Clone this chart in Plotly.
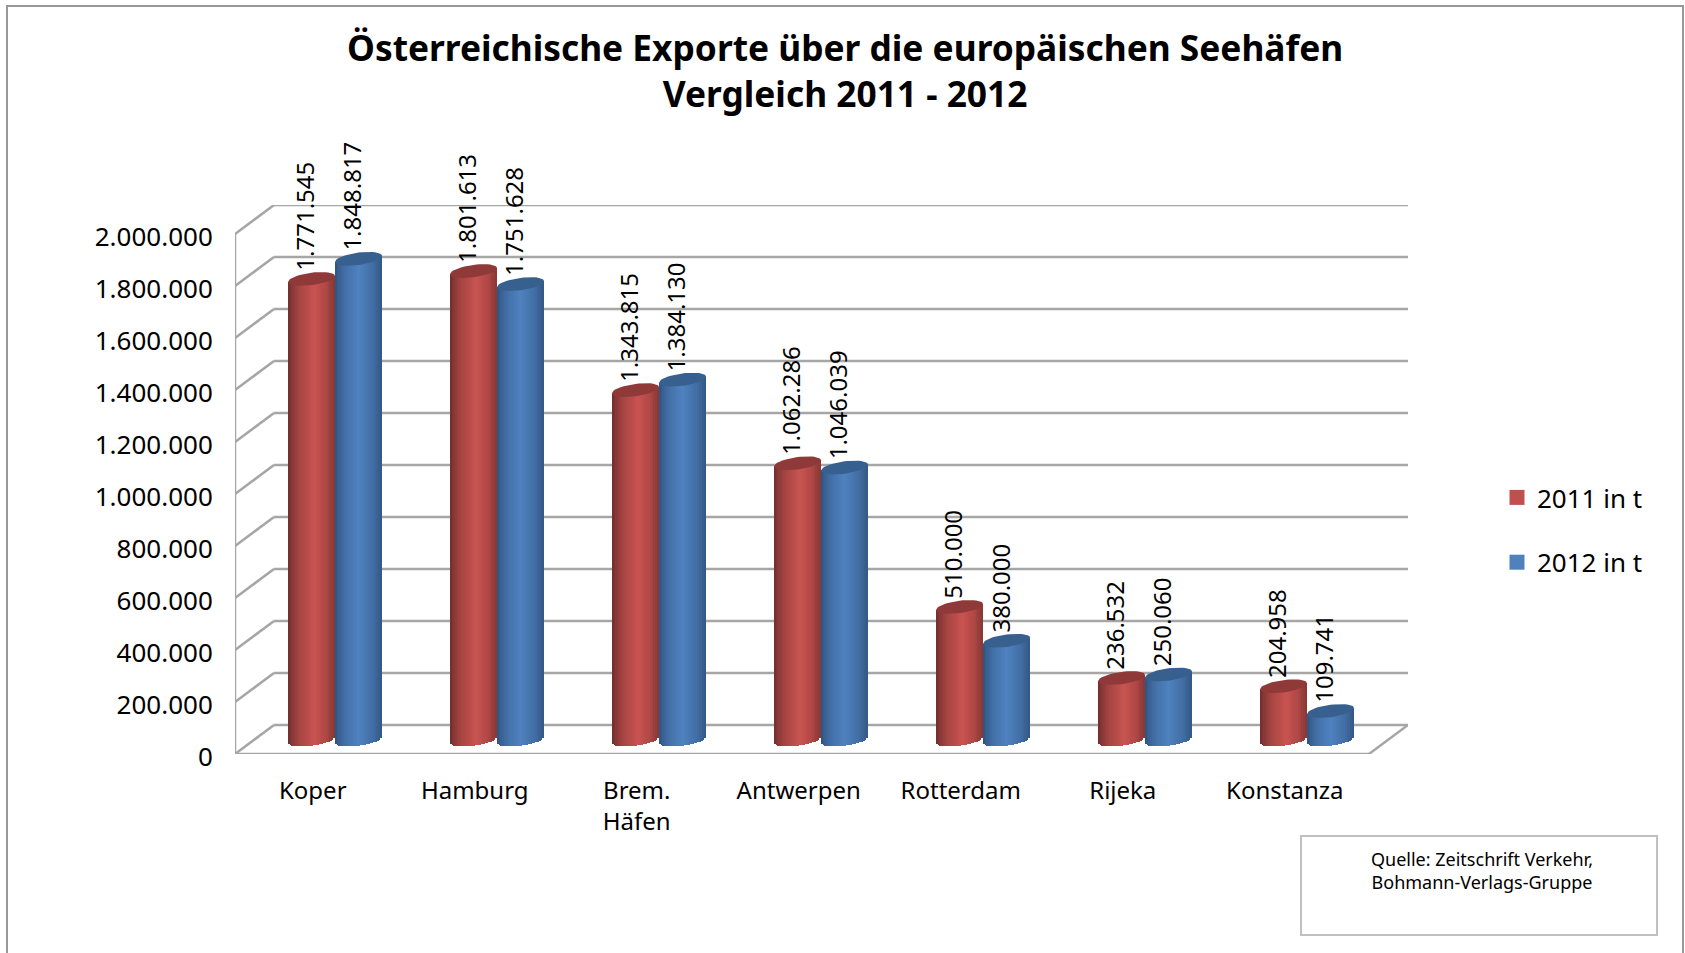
import numpy as np
import plotly.graph_objects as go

ports = ['Koper', 'Hamburg', 'Brem.<br>Häfen', 'Antwerpen', 'Rotterdam', 'Rijeka', 'Konstanza']
exports_2011 = [1771545, 1801613, 1343815, 1062286, 510000, 236532, 204958]
exports_2012 = [1848817, 1751628, 1384130, 1046039, 380000, 250060, 109741]
y_ticks = [0, 200000, 400000, 600000, 800000, 1000000, 1200000, 1400000, 1600000, 1800000, 2000000]
title_text = 'Österreichische Exporte über die europäischen Seehäfen<br>Vergleich 2011 - 2012'

FONT = 'Noto Sans'
W, H = 1685, 953
LEFT, RIGHT, TOP, BOTTOM = 235, 1408, 205, 754
CAT_PX = 162
DEPTH_X, DEPTH_Y = 39, 29  # px, perspective offset of the back wall
UNIT_Y = 2000000 / 520  # value per pixel
UNIT_X = 1 / CAT_PX
N_STRIPS = 26

x_range = [-0.5, (RIGHT - LEFT) / CAT_PX - 0.5]
y_range = [0, (BOTTOM - TOP) * UNIT_Y]


def shade(stops, t):
    """Colour across the cylinder, t from 0 (left) to 1 (right)."""
    pos = [s[0] for s in stops]
    rgb = [np.interp(t, pos, [s[1][i] for s in stops]) for i in range(3)]
    return 'rgb({:.0f},{:.0f},{:.0f})'.format(*rgb)


RED_STOPS = [(0, (112, 46, 46)), (0.2, (160, 66, 64)), (0.55, (201, 84, 81)), (0.8, (176, 72, 70)), (1, (135, 55, 53))]
BLUE_STOPS = [(0, (48, 84, 128)), (0.2, (66, 110, 165)), (0.5, (79, 130, 192)), (0.8, (66, 110, 165)), (1, (52, 88, 132))]

series = [
    ('2011 in t', exports_2011, -4.5, RED_STOPS, '#8f3a38', '#c0504d'),
    ('2012 in t', exports_2012, 42.5, BLUE_STOPS, '#37608f', '#4f81bd'),
]

R_PX, RY_PX, TILT_PX = 23.5, 6.2, 3.0
BASE_PX = 14.5

fig = go.Figure()

# cylinders: one bar per vertical strip, so the bottom follows the ellipse
for name, values, offset_px, stops, cap_color, flat_color in series:
    values = np.array(values, dtype=float)
    centers = np.arange(len(ports)) + offset_px * UNIT_X
    for k in range(N_STRIPS):
        t = (k + 0.5) / N_STRIPS
        u = 2 * t - 1
        curve = np.sqrt(1 - u * u)
        bottom = (BASE_PX + TILT_PX * u - RY_PX * curve) * UNIT_Y
        top = values + (BASE_PX + TILT_PX * u) * UNIT_Y
        fig.add_trace(go.Bar(
            x=centers + u * R_PX * UNIT_X,
            y=top - bottom,
            base=bottom,
            width=2 * R_PX * UNIT_X / N_STRIPS * 1.2,
            marker={'color': shade(stops, t), 'line': {'width': 0}},
            showlegend=False,
            hoverinfo='skip',
        ))

    # top caps
    angle = np.linspace(0, 2 * np.pi, 49)
    for center, value in zip(centers, values):
        fig.add_trace(go.Scatter(
            x=center + R_PX * UNIT_X * np.cos(angle),
            y=value + (BASE_PX + RY_PX * np.sin(angle) + TILT_PX * np.cos(angle)) * UNIT_Y,
            mode='lines',
            line={'width': 0},
            fill='toself',
            fillcolor=cap_color,
            showlegend=False,
            hoverinfo='skip',
        ))

    # legend entry
    fig.add_trace(go.Scatter(
        x=[None],
        y=[None],
        mode='markers',
        name=name,
        legendgroup=name,
        marker={'symbol': 'square', 'size': 15, 'color': flat_color},
    ))

# walls and gridlines
shapes = []
dx, dy = DEPTH_X * UNIT_X, DEPTH_Y * UNIT_Y
line = {'color': '#a6a6a6', 'width': 2.5}
for v in y_ticks:
    shapes.append(dict(type='line', xref='x', yref='y', layer='below', line=line,
                       x0=x_range[0], y0=v, x1=x_range[0] + dx, y1=v + dy))
    shapes.append(dict(type='line', xref='x', yref='y', layer='below', line=line,
                       x0=x_range[0] + dx, y0=v + dy, x1=x_range[1], y1=v + dy))
shapes.append(dict(type='line', xref='x', yref='y', layer='below', line=line,
                   x0=x_range[0], y0=0, x1=x_range[0], y1=y_ticks[-1]))
shapes.append(dict(type='line', xref='x', yref='y', layer='below', line=line,
                   x0=x_range[0], y0=0, x1=x_range[1] - dx, y1=0))
shapes.append(dict(type='line', xref='x', yref='y', layer='below', line=line,
                   x0=x_range[1] - dx, y0=0, x1=x_range[1], y1=dy))


def px_x(px):
    return (px - LEFT) / (RIGHT - LEFT)


def px_y(px):
    return (BOTTOM - px) / (BOTTOM - TOP)


# outer frame and source box
shapes.append(dict(type='path', xref='paper', yref='paper', layer='below',
                   line={'color': '#989898', 'width': 2},
                   path=f'M {px_x(7)} {px_y(980)} L {px_x(7)} {px_y(6)} L {px_x(1683)} {px_y(6)} L {px_x(1683)} {px_y(980)}'))
shapes.append(dict(type='rect', xref='paper', yref='paper', layer='below',
                   line={'color': '#c0c0c0', 'width': 2},
                   x0=px_x(1301), y0=px_y(935), x1=px_x(1657), y1=px_y(836)))

# value labels
annotations = []
for name, values, offset_px, *_ in series:
    for i, v in enumerate(values):
        annotations.append(dict(
            x=i + offset_px * UNIT_X,
            y=v + (BASE_PX + RY_PX + 5) * UNIT_Y,
            xref='x', yref='y',
            text=f'{v:,}'.replace(',', '.'),
            textangle=-90,
            showarrow=False,
            xanchor='center',
            yanchor='bottom',
            xshift=-7,
            yshift=-5,
            font={'family': FONT, 'size': 24, 'color': '#000000'},
        ))

annotations.append(dict(
    xref='paper', yref='paper',
    x=px_x(1482), y=px_y(845),
    text='Quelle: Zeitschrift Verkehr,<br>Bohmann-Verlags-Gruppe',
    showarrow=False,
    xanchor='center',
    yanchor='top',
    align='center',
    font={'family': FONT, 'size': 18, 'color': '#000000'},
))
annotations.append(dict(
    xref='paper', yref='paper',
    x=px_x(845), y=px_y(69.5),
    text=f'<b>{title_text}</b>',
    showarrow=False,
    xanchor='center',
    yanchor='middle',
    align='center',
    font={'family': FONT, 'size': 35.3, 'color': '#000000'},
))

fig.update_layout(
    width=W,
    height=H,
    margin={'l': LEFT, 'r': W - RIGHT, 't': TOP, 'b': H - BOTTOM, 'pad': 0},
    autosize=False,
    barmode='overlay',
    bargap=0,
    plot_bgcolor='white',
    paper_bgcolor='white',
    separators=',.',
    shapes=shapes,
    annotations=annotations,
    legend={
        'x': px_x(1497),
        'y': px_y(474),
        'xanchor': 'left',
        'yanchor': 'top',
        'tracegroupgap': 28,
        'font': {'family': FONT, 'size': 26, 'color': '#000000'},
        'bgcolor': 'rgba(0,0,0,0)',
    },
    xaxis={
        'range': x_range,
        'tickmode': 'array',
        'tickvals': [i - 0.02 for i in range(len(ports))],
        'ticktext': ports,
        'showgrid': False,
        'zeroline': False,
        'showline': False,
        'ticks': 'outside',
        'ticklen': 15,
        'tickcolor': 'rgba(0,0,0,0)',
        'tickfont': {'family': FONT, 'size': 24, 'color': '#000000'},
    },
    yaxis={
        'range': y_range,
        'tickmode': 'array',
        'tickvals': y_ticks,
        'tickformat': ',d',
        'showgrid': False,
        'zeroline': False,
        'showline': False,
        'ticks': 'outside',
        'ticklen': 16,
        'ticklabelshift': 3,
        'tickcolor': 'rgba(0,0,0,0)',
        'tickfont': {'family': FONT, 'size': 26, 'color': '#000000'},
    },
)

# page margin off, so the figure fills the window exactly
fig.write_html('out.html', config={'displayModeBar': False},
               post_script="document.body.style.margin = '0';")
